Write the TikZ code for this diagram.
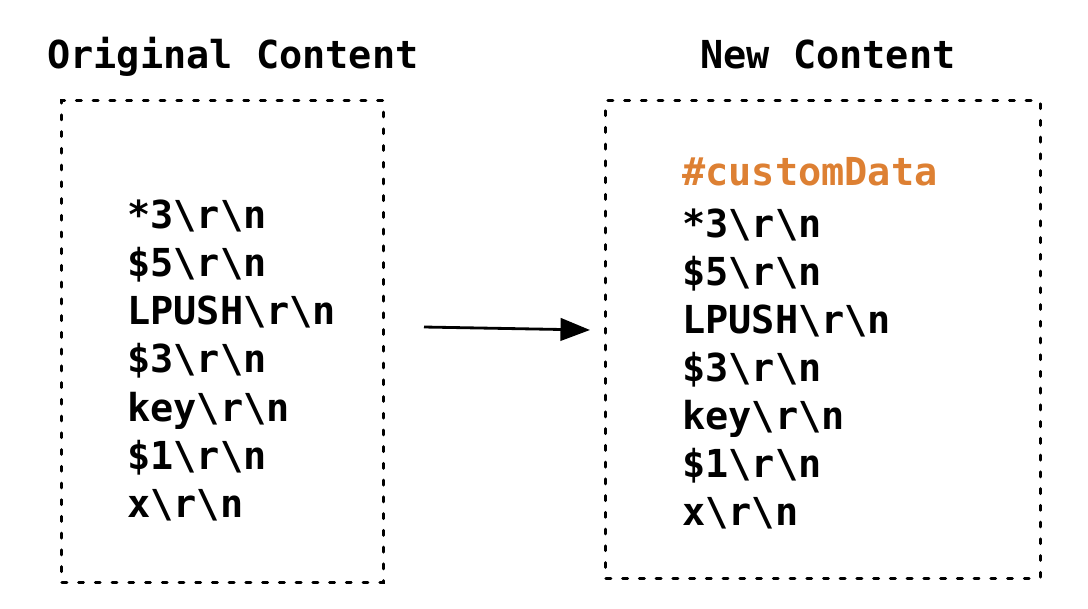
\documentclass[tikz,border=0pt]{standalone}
\usepackage{fontspec}
\setmonofont{DejaVu Sans Mono}
\usetikzlibrary{arrows.meta, positioning}
\definecolor{cOrange}{HTML}{DD8033}
\newcommand{\crlf}{\textbackslash r\textbackslash n}

\begin{document}
\begin{tikzpicture}[
  x=0.025cm, y=-0.025cm,
  code/.style={anchor=west, inner sep=0pt, text height=0.8em, text depth=0.2em,
               font=\ttfamily\bfseries\fontsize{27.4}{34}\selectfont},
  title/.style={code},
  frame/.style={rectangle, draw, line width=2.1pt, dash pattern=on 3.5pt off 8.4pt,
                line cap=round},
  arr/.style={-{Triangle[length=21pt, width=16pt]}, line width=2pt},
]
\useasboundingbox (0,0) rectangle (1088,608);

% ---- frames ----
\node[frame, minimum width=8.03cm, minimum height=12.03cm] (orig) at (222.5,341.5) {};
\node[frame, minimum width=10.85cm, minimum height=11.93cm] (new) at (823,339.5) {};

% ---- titles ----
\node[title] (torig) at (47,64) {Original Content};
\node[title] (tnew) at (700,64) {New Content};

% ---- left column ----
\foreach \txt [count=\i] in {*3\crlf, \$5\crlf, LPUSH\crlf, \$3\crlf, key\crlf, \$1\crlf, x\crlf}
  \node[code] (o\i) at (127,{224+48.2*(\i-1)}) {\txt};

% ---- right column ----
\node[code, text=cOrange] (cd) at (682,181) {\#customData};
\foreach \txt [count=\i] in {*3\crlf, \$5\crlf, LPUSH\crlf, \$3\crlf, key\crlf, \$1\crlf, x\crlf}
  \node[code] (n\i) at (682,{233+48*(\i-1)}) {\txt};

% ---- arrow ----
\coordinate (a1) at (424,327);
\coordinate (a2) at (590,330);
\draw[arr] (a1) -- (a2);

\end{tikzpicture}
\end{document}
